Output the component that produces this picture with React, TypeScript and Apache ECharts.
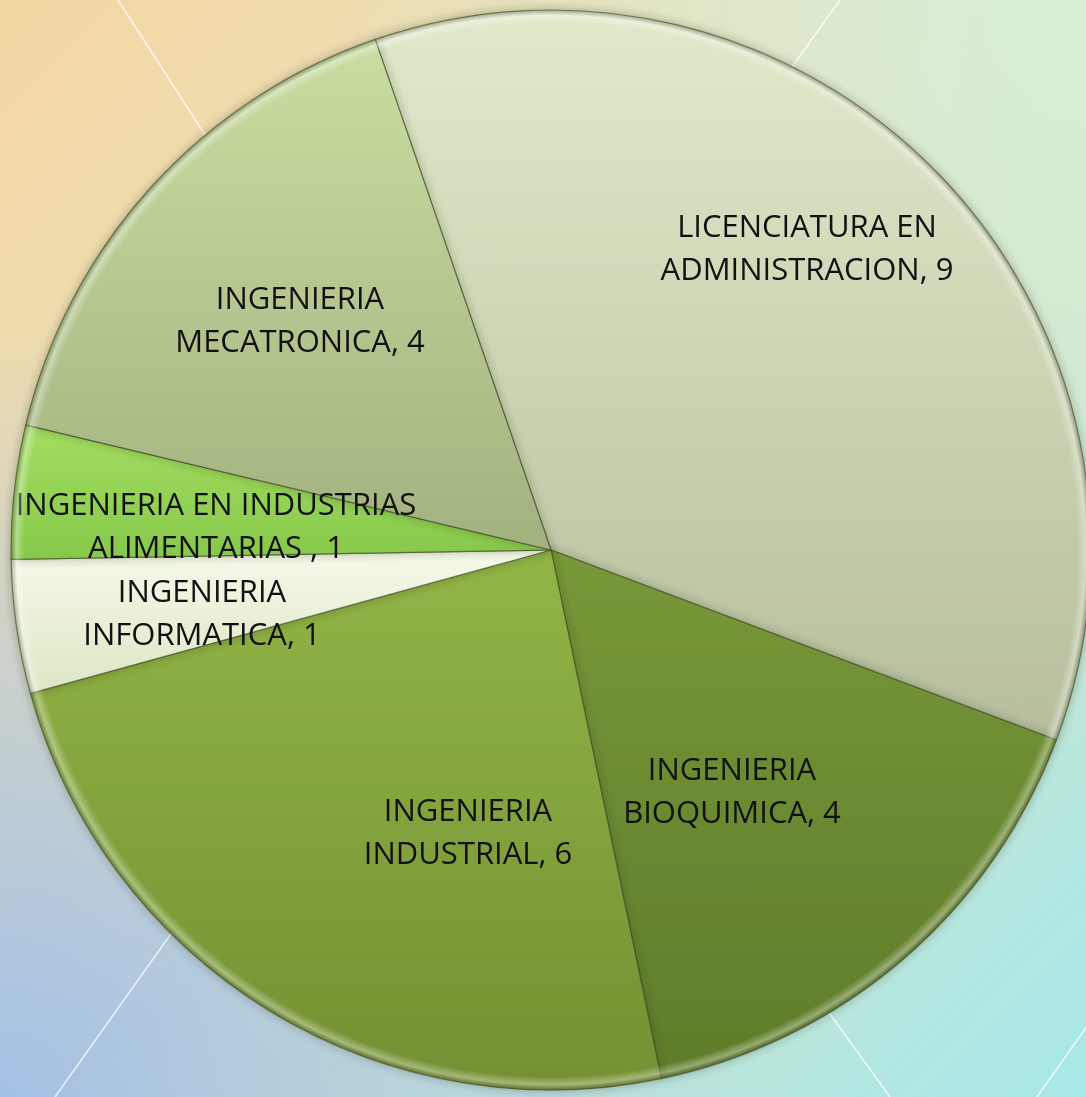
import React, { useEffect, useRef } from "react";
import * as echarts from "echarts";

// ---- data ----
const categories = [
  "LICENCIATURA EN ADMINISTRACION",
  "INGENIERIA BIOQUIMICA",
  "INGENIERIA INDUSTRIAL",
  "INGENIERIA INFORMATICA",
  "INGENIERIA EN INDUSTRIAS ALIMENTARIAS ",
  "INGENIERIA MECATRONICA",
];
const values = [9, 4, 6, 1, 1, 4];
// number of words on the first label line
const firstLineWords = [2, 1, 1, 1, 3, 1];

// ---- styling ----
const W = 1086;
const H = 1097;
const CX = 551;
const CY = 550;
const R = 540;
const sliceColors: [string, string][] = [
  ["#e0e9c9", "#b6be9d"],
  ["#789838", "#5f7c2b"],
  ["#92b546", "#749033"],
  ["#f6f9ea", "#dce6c4"],
  ["#a4de62", "#86c84a"],
  ["#c9dda1", "#a2b27f"],
];
// label anchor offsets from pie centre (styling only)
const labelOffsets: [number, number][] = [
  [256, -304],
  [181, 239],
  [-83, 280],
  [-349, 61],
  [-335, -26],
  [-251, -232],
];

function labelText(name: string, value: number, idx: number) {
  const words = name.split(" ");
  const n = firstLineWords[idx];
  const l1 = words.slice(0, n).join(" ");
  const l2 = words.slice(n).join(" ");
  return l1 + "\n" + l2 + ", " + value;
}

export default function App() {
  const ref = useRef<HTMLDivElement>(null);
  useEffect(() => {
    if (!ref.current) return;
    const chart = echarts.init(ref.current, undefined, { renderer: "svg" });
    const lg = (a: string, b: string) =>
      new echarts.graphic.LinearGradient(0, 0, 0, 1, [
        { offset: 0, color: a },
        { offset: 1, color: b },
      ]);
    const bgLines = [
      [[118, 0], [400, 437]],
      [[840, 0], [700, 195]],
      [[55, 1097], [300, 752]],
      [[890, 1097], [700, 834]],
      [[1037, 1097], [1100, 1008]],
    ];
    chart.setOption({
      animation: false,
      graphic: [
        {
          type: "rect",
          z: -10,
          silent: true,
          shape: { x: 0, y: 0, width: W, height: H },
          style: {
            fill: new echarts.graphic.LinearGradient(0, 0, 1, 1, [
              { offset: 0, color: "#f4d7a2" },
              { offset: 0.45, color: "#e5e2c2" },
              { offset: 1, color: "#a6e8e8" },
            ]),
          },
        },
        {
          type: "rect",
          z: -9,
          silent: true,
          shape: { x: 0, y: 0, width: W, height: H },
          style: {
            fill: new echarts.graphic.RadialGradient(0, 1, 0.7, [
              { offset: 0, color: "rgba(160,190,230,0.95)" },
              { offset: 1, color: "rgba(160,190,230,0)" },
            ]),
          },
        },
        {
          type: "rect",
          z: -9,
          silent: true,
          shape: { x: 0, y: 0, width: W, height: H },
          style: {
            fill: new echarts.graphic.RadialGradient(1, 0, 0.7, [
              { offset: 0, color: "rgba(214,238,214,0.95)" },
              { offset: 1, color: "rgba(214,238,214,0)" },
            ]),
          },
        },
        ...bgLines.map((l) => ({
          type: "line",
          z: -8,
          silent: true,
          shape: { x1: l[0][0], y1: l[0][1], x2: l[1][0], y2: l[1][1] },
          style: { stroke: "rgba(255,255,255,0.8)", lineWidth: 1.5 },
        })),
      ],
      series: [
        {
          type: "pie",
          center: [CX, CY],
          radius: [0, R],
          startAngle: 109,
          clockwise: true,
          avoidLabelOverlap: false,
          labelLine: { show: false },
          itemStyle: {
            borderColor: "rgba(60,70,40,0.6)",
            borderWidth: 1.2,
            shadowBlur: 10,
            shadowColor: "rgba(40,50,20,0.35)",
          },
          label: {
            show: true,
            position: "inside",
            color: "#111111",
            fontFamily: "'Open Sans', sans-serif",
            fontSize: 31,
            lineHeight: 43,
            align: "center",
            formatter: (p: any) => labelText(p.name, p.value, p.dataIndex),
          },
          labelLayout: (p: any) => ({
            x: CX + labelOffsets[p.dataIndex][0],
            y: CY + labelOffsets[p.dataIndex][1],
            align: "center",
            verticalAlign: "middle",
          }),
          emphasis: { disabled: true },
          data: categories.map((c, i) => ({
            name: c,
            value: values[i],
            itemStyle: { color: lg(sliceColors[i][0], sliceColors[i][1]) },
          })),
        },
        {
          type: "pie",
          center: [CX, CY],
          radius: [R - 14, R],
          startAngle: 109,
          silent: true,
          z: 3,
          label: { show: false },
          labelLine: { show: false },
          emphasis: { disabled: true },
          itemStyle: {
            borderWidth: 0,
            color: new echarts.graphic.RadialGradient(
              CX,
              CY,
              R,
              [
                { offset: 0, color: "rgba(255,255,255,0)" },
                { offset: 0.975, color: "rgba(255,255,255,0)" },
                { offset: 0.99, color: "rgba(255,255,255,0.35)" },
                { offset: 1, color: "rgba(50,60,30,0.35)" },
              ],
              true
            ),
          },
          data: categories.map((c, i) => ({ name: c, value: values[i] })),
        },
      ],
    });
    return () => chart.dispose();
  }, []);
  return (
    <div
      ref={ref}
      style={{ position: "fixed", left: 0, top: 0, width: W, height: H }}
    />
  );
}
